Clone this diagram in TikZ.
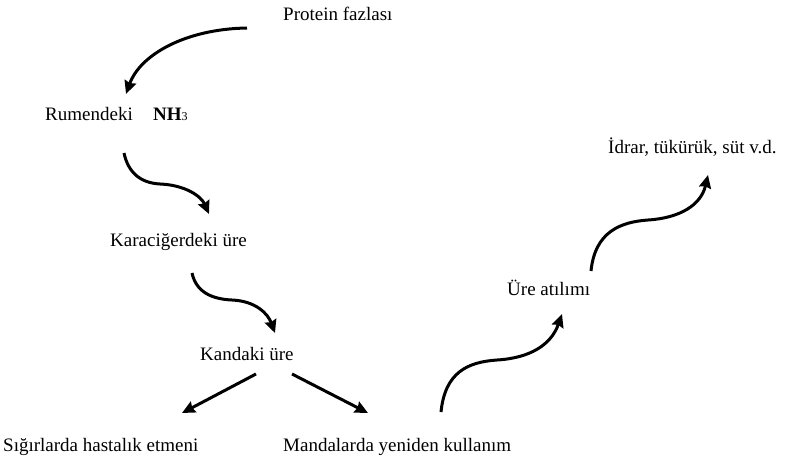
\documentclass[tikz,border=0pt]{standalone}
\usepackage{fontspec}
\setmainfont{Liberation Serif}
\usetikzlibrary{arrows.meta,calc}

\tikzset{
  lbl/.style={anchor=base west, inner sep=0pt, font=\fontsize{19}{22}\selectfont},
  flow/.style={line width=3pt, -{Stealth[length=13pt,width=12pt,inset=1.5pt]}},
}

\begin{document}
\begin{tikzpicture}[x=1pt,y=-1pt]
  \useasboundingbox (0,0) rectangle (789,463);

  % stages of the urea cycle
  \node[lbl] (prot) at (283,20)  {Protein fazlası};
  \node[lbl] (rum)  at (45,120)  {Rumendeki};
  \node[lbl] (nh)   at (153,120) {\textbf{NH}{\fontsize{12}{12}\selectfont 3}};
  \node[lbl] (kar)  at (110,246) {Karaciğerdeki üre};
  \node[lbl] (kan)  at (200,360) {Kandaki üre};
  \node[lbl] (sig)  at (3,451)   {Sığırlarda hastalık etmeni};
  \node[lbl] (man)  at (283,451) {Mandalarda yeniden kullanım};
  \node[lbl] (ure)  at (507,295) {Üre atılımı};
  \node[lbl] (idr)  at (608,153) {İdrar, tükürük, süt v.d.};

  % curved connectors
  \draw[flow] ($(prot.base west)+(-36,8)$)
    .. controls (185,29) and (140,55) .. ($(rum.base west)+(81,-26)$);
  \draw[flow] ($(rum.base west)+(79,33)$)
    .. controls (128,172) and (140,183) .. (160,184)
    .. controls (185,185) and (201,196) .. ($(kar.base west)+(99,-32)$);
  \draw[flow] ($(kar.base west)+(82,27)$)
    .. controls (196,291) and (210,299) .. (232,300)
    .. controls (256,301) and (268,314) .. ($(kan.base west)+(75,-27)$);

  % split below the blood urea
  \draw[flow] ($(kan.base west)+(56,14)$) -- ($(sig.base west)+(179,-38)$);
  \draw[flow] ($(kan.base west)+(92,14)$) -- ($(man.base west)+(85,-38)$);

  % excretion route
  \draw[flow] ($(man.base west)+(158,-39)$)
    .. controls (445,372) and (468,362) .. (497,360)
    .. controls (530,358) and (551,345) .. ($(ure.base west)+(55,19)$);
  \draw[flow] ($(ure.base west)+(84,-24)$)
    .. controls (595,232) and (620,222) .. (648,220)
    .. controls (680,218) and (701,205) .. ($(idr.base west)+(100,22)$);
\end{tikzpicture}
\end{document}
